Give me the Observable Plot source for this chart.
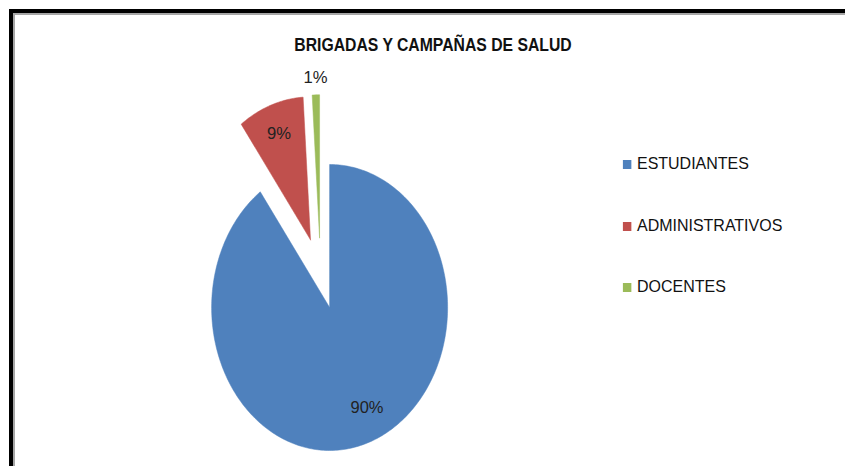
<!DOCTYPE html>
<html>
<head>
<meta charset="utf-8">
<script src="https://cdn.jsdelivr.net/npm/d3@7"></script>
<script src="https://cdn.jsdelivr.net/npm/@observablehq/plot@0.6"></script>
<style>
  html, body { margin: 0; padding: 0; background: #fff; }
  #wrap { position: relative; width: 845px; height: 466px; overflow: hidden; font-family: "Liberation Sans", sans-serif; }
  #frame { position: absolute; left: 9px; top: 9px; width: 900px; height: 600px; border-left: 4px solid #000; border-top: 4px solid #000; }
  #frame2 { position: absolute; left: 13px; top: 13px; width: 900px; height: 600px; border-left: 2px solid #a6a6a6; border-top: 2px solid #a6a6a6; }
  #title { position: absolute; left: 0; width: 866px; top: 35px; text-align: center; font-weight: bold; font-size: 18px; color: #111; transform: scaleX(0.875); transform-origin: 433px 0; }
  #chart { position: absolute; left: 0; top: 0; }
  .leg { position: absolute; left: 622px; font-size: 17px; color: #111; display: flex; align-items: center; height: 20px; transform: scaleX(0.94); transform-origin: 15px 0; }
  .leg span.sw { display: inline-block; width: 9px; height: 9px; margin-right: 6px; }
</style>
</head>
<body>
<div id="wrap">
  <div id="frame"></div>
  <div id="frame2"></div>
  <div id="chart"></div>
  <div id="title">BRIGADAS Y CAMPAÑAS DE SALUD</div>
  <div id="legend"></div>
</div>
<script>
const categories = ["ESTUDIANTES", "ADMINISTRATIVOS", "DOCENTES"];
const values = [90, 9, 1];
const labels = ["90%", "9%", "1%"];
const colors = ["#4F81BD", "#C0504D", "#9BBB59"];

const explode = 0.25;
const pie = d3.pie().sort(null).value(d => d)(values);
const total = d3.sum(values);

const pts = [];
const labs = [];
pie.forEach((s, i) => {
  const mid = (s.startAngle + s.endAngle) / 2;
  const ox = explode * Math.sin(mid), oy = explode * Math.cos(mid);
  pts.push({k: i, x: ox, y: oy});
  const n = Math.max(4, Math.ceil((s.endAngle - s.startAngle) * 60));
  for (let j = 0; j <= n; j++) {
    const a = s.startAngle + (s.endAngle - s.startAngle) * j / n;
    pts.push({k: i, x: ox + Math.sin(a), y: oy + Math.cos(a)});
  }
  pts.push({k: i, x: ox, y: oy});
  const share = values[i] / total;
  const r = share < 0.05 ? 1.12 : (share > 0.5 ? 0.77 : 0.79);
  const la = share > 0.5 ? mid - 0.11 : mid;
  labs.push({x: ox + r * Math.sin(la), y: oy + r * Math.cos(la), t: labels[i]});
});

const chart = Plot.plot({
  width: 845, height: 466,
  margin: 0,
  x: {domain: [-1, 1], range: [202, 438], axis: null},
  y: {domain: [-1, 1], range: [416, 130], axis: null},
  color: {domain: d3.range(categories.length), range: colors},
  marks: [
    Plot.line(pts, {x: "x", y: "y", z: "k", fill: "k", stroke: "k", strokeWidth: 0.5, curve: "linear"}),
    Plot.text(labs, {x: "x", y: "y", text: "t", fontSize: 17, fill: "#222", fontFamily: "Liberation Sans, sans-serif"})
  ]
});
chart.querySelectorAll("text").forEach(t => { t.setAttribute("textLength", t.textContent.length > 2 ? 33 : 24); t.setAttribute("lengthAdjust", "spacingAndGlyphs"); });
document.getElementById("chart").appendChild(chart);

const leg = document.getElementById("legend");
const rowTops = [154, 216, 277];
categories.forEach((c, i) => {
  const d = document.createElement("div");
  d.className = "leg";
  d.style.top = rowTops[i] + "px";
  d.innerHTML = `<span class="sw" style="background:${colors[i]}"></span>${c}`;
  leg.appendChild(d);
});
</script>
</body>
</html>
